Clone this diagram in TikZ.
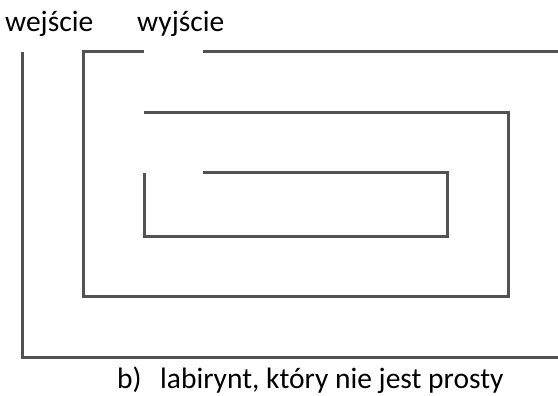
\documentclass[tikz,border=0pt]{standalone}
\usepackage{fontspec}
\setmainfont{Carlito}
\begin{document}
\begin{tikzpicture}[x=1pt,y=-1pt,
  wall/.style={draw=black!68, line width=3pt, line cap=butt, line join=miter},
  lbl/.style={inner sep=0pt, anchor=base west, font=\fontsize{29.5}{34}\selectfont}]
\useasboundingbox (0,0) rectangle (558,396);
% outer wall
\coordinate (o1) at (22,52);
\coordinate (o2) at (22,357);
\coordinate (o3) at (558,357);
\draw[wall] (o1) -- (o2) -- (o3);
% second wall
\coordinate (s1) at (144,52);
\coordinate (s2) at (83,52);
\coordinate (s3) at (83,296);
\coordinate (s4) at (508,296);
\coordinate (s5) at (508,113);
\coordinate (s6) at (144,113);
\draw[wall] (s1) -- (s2) -- (s3) -- (s4) -- (s5) -- (s6);
% top wall right of exit
\coordinate (t1) at (203,52);
\coordinate (t2) at (558,52);
\draw[wall] (t1) -- (t2);
% inner wall
\coordinate (i1) at (144,173);
\coordinate (i2) at (144,236);
\coordinate (i3) at (447,236);
\coordinate (i4) at (447,173);
\coordinate (i5) at (203,173);
\draw[wall] (i1) -- (i2) -- (i3) -- (i4) -- (i5);
% labels
\node[lbl] (we) at (5,32) {wejście};
\node[lbl] (wy) at (137,32) {wyjście};
\node[lbl] (cap) at (117,388) {\makebox[43pt][l]{b)}labirynt, który nie jest prosty};
\end{tikzpicture}
\end{document}
